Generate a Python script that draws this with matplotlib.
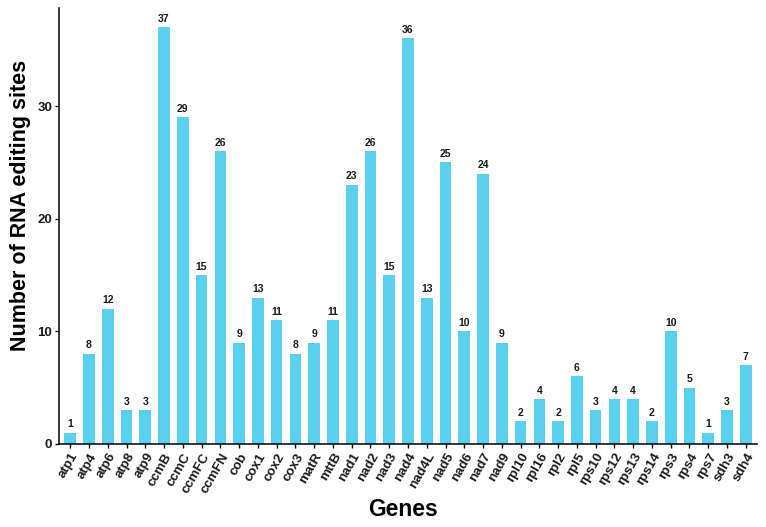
import matplotlib
matplotlib.use("Agg")
import matplotlib.pyplot as plt

genes = ["atp1", "atp4", "atp6", "atp8", "atp9", "ccmB", "ccmC", "ccmFC", "ccmFN",
         "cob", "cox1", "cox2", "cox3", "matR", "mttB", "nad1", "nad2", "nad3",
         "nad4", "nad4L", "nad5", "nad6", "nad7", "nad9", "rpl10", "rpl16", "rpl2",
         "rpl5", "rps10", "rps12", "rps13", "rps14", "rps3", "rps4", "rps7", "sdh3", "sdh4"]
sites = [1, 8, 12, 3, 3, 37, 29, 15, 26, 9, 13, 11, 8, 9, 11, 23, 26, 15, 36, 13,
         25, 10, 24, 9, 2, 4, 2, 6, 3, 4, 4, 2, 10, 5, 1, 3, 7]
yticks = [0, 10, 20, 30]

plt.rcParams['font.family'] = ['Liberation Sans', 'DejaVu Sans']

fig = plt.figure(figsize=(7.66, 5.27), dpi=100)
ax = fig.add_axes([59/766, 1-444/527, 698/766, 436/527])

x = list(range(1, len(genes) + 1))
ax.bar(x, sites, width=0.62, color='#5BCFEE', edgecolor='none')
for xi, v in zip(x, sites):
    ax.text(xi, v + 0.3, str(v), ha='center', va='bottom', fontsize=7.5,
            fontweight='bold', color='#1a1a1a')

ax.set_xlim(0.4, len(genes) + 0.6)
ax.set_ylim(0, 38.7)
ax.set_xticks(x)
ax.set_xticklabels(genes, rotation=60, ha='right', va='top', rotation_mode='anchor',
                   fontsize=9.5, fontweight='bold', color='#1a1a1a')
ax.set_yticks(yticks)
ax.set_yticklabels([str(t) for t in yticks], fontsize=9.5, fontweight='bold', color='#1a1a1a')
ax.tick_params(axis='both', length=3, width=1, color='black', pad=2)
for s in ['top', 'right']:
    ax.spines[s].set_visible(False)
for s in ['left', 'bottom']:
    ax.spines[s].set_linewidth(1.1)
    ax.spines[s].set_color('black')

ax.set_ylabel('Number of RNA editing sites', fontsize=15.5, fontweight='bold',
              va='center', ha='center')
ax.yaxis.set_label_coords((21 - 59) / 698, (444 - 205) / 436)
ax.set_xlabel('Genes', fontsize=16.5, fontweight='bold', va='center', ha='center')
ax.xaxis.set_label_coords((403 - 59) / 698, (444 - 509) / 436)

fig.savefig('out.png', dpi=100)
